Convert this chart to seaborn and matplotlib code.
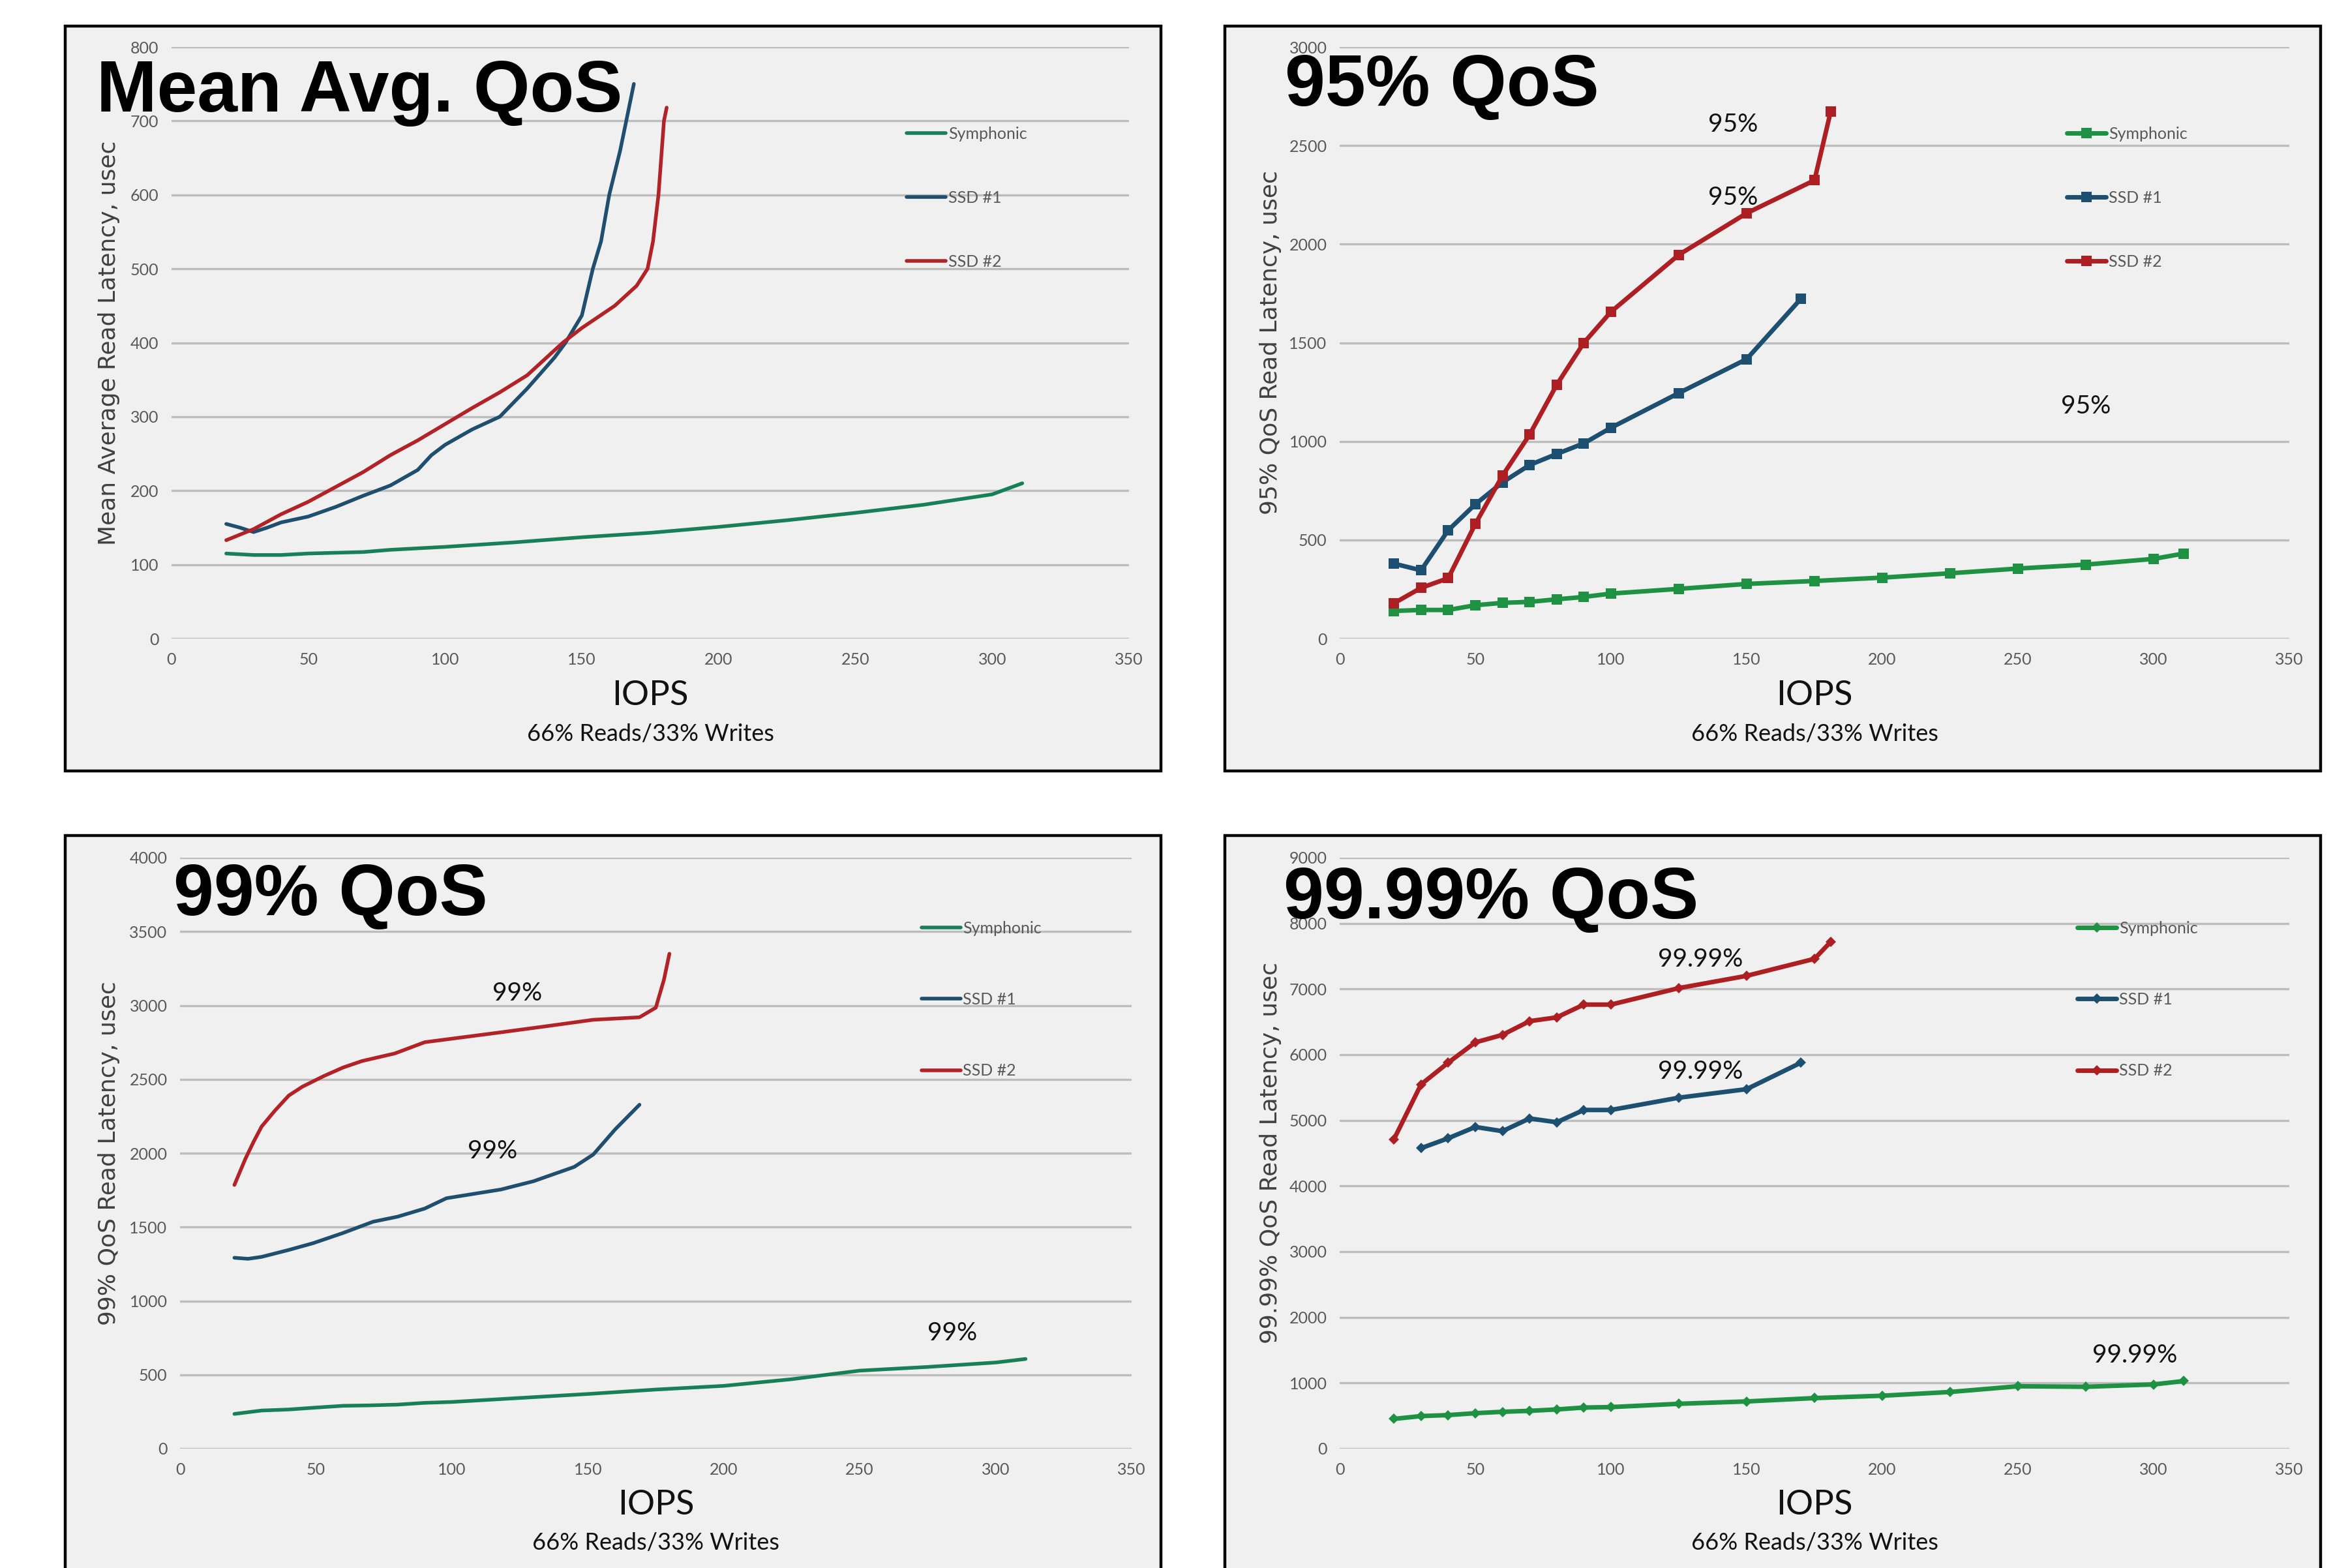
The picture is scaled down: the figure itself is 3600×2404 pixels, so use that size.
"""Four-panel QoS latency comparison (Symphonic vs SSD #1 vs SSD #2)."""

import matplotlib

matplotlib.use("Agg")
import matplotlib.pyplot as plt
import pandas as pd
import seaborn as sns
from matplotlib.patches import Rectangle

# ---------------- data (IOPS in thousands, latency in usec) ----------------
# Mean average read latency (smoothed curves in the original)
mean_sym_x = [20, 30, 40, 50, 60, 70, 80, 90, 100, 125, 150, 175, 200, 225, 250, 275, 300, 311]
mean_sym_y = [115, 113, 113, 115, 116, 117, 120, 122, 124, 130, 137, 143, 151, 160, 170, 181, 195, 210]
mean_ssd1_x = [20, 25, 30, 35, 40, 50, 60, 70, 80, 90, 95, 100, 110, 120, 130, 140, 144, 150, 154, 157, 160, 164, 169]
mean_ssd1_y = [155, 150, 144, 150, 157, 165, 178, 193, 207, 228, 248, 262, 283, 300, 338, 380, 400, 437, 500, 537, 600, 660, 750]
mean_ssd2_x = [20, 30, 40, 50, 60, 70, 80, 90, 100, 110, 120, 130, 143, 150, 162, 170, 174, 176, 178, 180, 181]
mean_ssd2_y = [133, 148, 168, 185, 205, 225, 248, 268, 290, 312, 333, 356, 400, 420, 450, 477, 500, 537, 600, 700, 718]

# 95% QoS read latency (markers at measured points)
q95_sym_x = [20, 30, 40, 50, 60, 70, 80, 90, 100, 125, 150, 175, 200, 225, 250, 275, 300, 311]
q95_sym_y = [140, 145, 145, 169, 181, 186, 199, 211, 228, 252, 277, 292, 309, 331, 355, 375, 404, 431]
q95_ssd1_x = [20, 30, 40, 50, 60, 70, 80, 90, 100, 125, 150, 170]
q95_ssd1_y = [380, 346, 549, 681, 792, 880, 936, 990, 1069, 1245, 1417, 1723]
q95_ssd2_x = [20, 30, 40, 50, 60, 70, 80, 90, 100, 125, 150, 175, 181]
q95_ssd2_y = [179, 257, 306, 581, 826, 1034, 1287, 1500, 1657, 1946, 2157, 2324, 2674]

# 99% QoS read latency (smoothed curves)
q99_sym_x = [20, 30, 40, 50, 60, 70, 80, 90, 100, 125, 150, 175, 200, 225, 240, 250, 275, 300, 311]
q99_sym_y = [235, 258, 265, 278, 290, 293, 298, 310, 316, 343, 370, 400, 425, 470, 505, 528, 553, 583, 607]
q99_ssd1_x = [20, 25, 30, 40, 49, 60, 71, 80, 90, 98, 118, 130, 145, 152, 160, 169]
q99_ssd1_y = [1292, 1285, 1298, 1345, 1391, 1460, 1536, 1570, 1625, 1695, 1754, 1810, 1907, 1991, 2160, 2328]
q99_ssd2_x = [20, 24, 27, 30, 35, 40, 45, 53, 60, 67, 79, 90, 100, 118, 135, 152, 169, 175, 178, 180]
q99_ssd2_y = [1785, 1960, 2075, 2180, 2290, 2390, 2450, 2523, 2580, 2624, 2675, 2751, 2775, 2818, 2860, 2903, 2920, 2985, 3175, 3350]

# 99.99% QoS read latency (diamond markers)
q9999_sym_x = [20, 30, 40, 50, 60, 70, 80, 90, 100, 125, 150, 175, 200, 225, 250, 275, 300, 311]
q9999_sym_y = [453, 496, 511, 540, 561, 576, 597, 626, 633, 683, 719, 770, 806, 863, 950, 942, 978, 1029]
q9999_ssd1_x = [30, 40, 50, 60, 70, 80, 90, 100, 125, 150, 170]
q9999_ssd1_y = [4576, 4727, 4899, 4835, 5029, 4971, 5158, 5158, 5345, 5475, 5878]
q9999_ssd2_x = [20, 30, 40, 50, 60, 70, 80, 90, 100, 125, 150, 175, 181]
q9999_ssd2_y = [4712, 5547, 5878, 6187, 6302, 6511, 6568, 6763, 6763, 7014, 7201, 7460, 7719]

series_names = ["Symphonic", "SSD #1", "SSD #2"]

# ---------------- style ----------------
W, H = 3600, 2404
PANEL_BG = "#f0f0f0"
GRID = "#bdbdbd"
TICK_C = "#595959"
SMOOTH_COLORS = {"Symphonic": "#17805a", "SSD #1": "#1f4e6e", "SSD #2": "#b22226"}
MARKER_COLORS = {"Symphonic": "#1f9142", "SSD #1": "#1d4f70", "SSD #2": "#ad1f22"}
BODY = ["Lato", "Liberation Sans", "DejaVu Sans"]

sns.set_theme(style="white")
plt.rcParams["font.family"] = BODY

fig = plt.figure(figsize=(W / 100, H / 100), dpi=100, facecolor="white")


def px_axes(l, t, r, b):
    return fig.add_axes([l / W, 1 - b / H, (r - l) / W, (b - t) / H])


def panel_box(l, t, r, b):
    fig.add_artist(Rectangle((l / W, 1 - b / H), (r - l) / W, (b - t) / H,
                             transform=fig.transFigure, facecolor=PANEL_BG,
                             edgecolor="black", linewidth=3.2, zorder=0))


panel_box(100, 40, 1780, 1182)
panel_box(1878, 40, 3558, 1182)
panel_box(100, 1281, 1780, 2440)
panel_box(1878, 1281, 3558, 2440)


def draw_panel(ax, series, ymax, ystep, ylabel, title, title_pos, ylabel_x,
               legend_anchor, label_spacing, marker=None, msize=0, lw=4.0,
               colors=SMOOTH_COLORS, notes=(), xlab_y=-0.097, sub_y=-0.161):
    ax.set_facecolor("none")
    frames = []
    for name, (xs, ys) in zip(series_names, series):
        frames.append(pd.DataFrame({"IOPS": xs, "lat": ys, "series": name}))
    df = pd.concat(frames, ignore_index=True)
    for name in series_names:
        sub = df[df["series"] == name]
        sns.lineplot(data=sub, x="IOPS", y="lat", ax=ax, color=colors[name],
                     linewidth=lw, marker=marker, markersize=msize,
                     markeredgewidth=0, label=name, zorder=3)
    ax.set_xlim(0, 350)
    ax.set_ylim(0, ymax)
    ax.set_xticks(range(0, 351, 50))
    ax.set_yticks(range(0, ymax + 1, ystep))
    ax.yaxis.grid(True, color=GRID, linewidth=2.4)
    ax.xaxis.grid(False)
    ax.set_axisbelow(True)
    for s in ax.spines.values():
        s.set_visible(False)
    ax.tick_params(axis="both", length=0, labelsize=18, labelcolor=TICK_C)
    ax.tick_params(axis="x", pad=15)
    ax.tick_params(axis="y", pad=14)

    ax.set_ylabel(ylabel, family="DejaVu Sans", fontsize=26, color="#404040")
    ax.yaxis.set_label_coords(ylabel_x, 0.5)
    ax.set_xlabel("")
    ax.text(0.5, xlab_y, "IOPS", transform=ax.transAxes, ha="center", va="center",
            fontsize=38, color="#111111")
    ax.text(0.5, sub_y, "66% Reads/33% Writes", transform=ax.transAxes, ha="center",
            va="center", fontsize=26, color="#111111")
    ax.text(title_pos[0], title_pos[1], title, transform=ax.transAxes, ha="left",
            va="baseline", fontsize=80, fontweight="bold", color="black",
            family=["Liberation Sans", "DejaVu Sans"], zorder=5)
    for tx, ty, txt in notes:
        ax.text(tx, ty, txt, ha="center", va="center", fontsize=28, color="#111111")

    leg = ax.legend(loc="upper left", bbox_to_anchor=legend_anchor, frameon=False,
                    fontsize=18, labelspacing=label_spacing, handlelength=2.4,
                    handletextpad=0.15, borderpad=0, borderaxespad=0)
    for t in leg.get_texts():
        t.set_color(TICK_C)


ax1 = px_axes(263, 72, 1731, 979)
draw_panel(ax1,
           [(mean_sym_x, mean_sym_y), (mean_ssd1_x, mean_ssd1_y), (mean_ssd2_x, mean_ssd2_y)],
           800, 100, "Mean Average Read Latency, usec", "Mean Avg. QoS",
           (-0.078, 0.891), -0.054, (0.768, 0.866), 3.0)

ax2 = px_axes(2054, 72, 3510, 979)
draw_panel(ax2,
           [(q95_sym_x, q95_sym_y), (q95_ssd1_x, q95_ssd1_y), (q95_ssd2_x, q95_ssd2_y)],
           3000, 500, "95% QoS Read Latency, usec", "95% QoS",
           (-0.058, 0.901), -0.061, (0.766, 0.866), 3.0,
           marker="s", msize=11, lw=5.0, colors=MARKER_COLORS,
           notes=[(145, 2605, "95%"), (145, 2237, "95%"), (275, 1179, "95%")])

ax3 = px_axes(276, 1315, 1735, 2221)
draw_panel(ax3,
           [(q99_sym_x, q99_sym_y), (q99_ssd1_x, q99_ssd1_y), (q99_ssd2_x, q99_ssd2_y)],
           4000, 500, "99% QoS Read Latency, usec", "99% QoS",
           (-0.007, 0.903), -0.063, (0.779, 0.893), 3.45,
           notes=[(124, 3082, "99%"), (115, 2013, "99%"), (284, 783, "99%")],
           xlab_y=-0.095, sub_y=-0.159)

ax4 = px_axes(2054, 1315, 3510, 2221)
draw_panel(ax4,
           [(q9999_sym_x, q9999_sym_y), (q9999_ssd1_x, q9999_ssd1_y), (q9999_ssd2_x, q9999_ssd2_y)],
           9000, 1000, "99.99% QoS Read Latency, usec", "99.99% QoS",
           (-0.059, 0.897), -0.061, (0.777, 0.893), 3.45,
           marker="D", msize=8, lw=5.0, colors=MARKER_COLORS,
           notes=[(133, 7446, "99.99%"), (133, 5741, "99.99%"), (293, 1424, "99.99%")],
           xlab_y=-0.095, sub_y=-0.159)

fig.savefig("out.png", dpi=100, facecolor="white")
